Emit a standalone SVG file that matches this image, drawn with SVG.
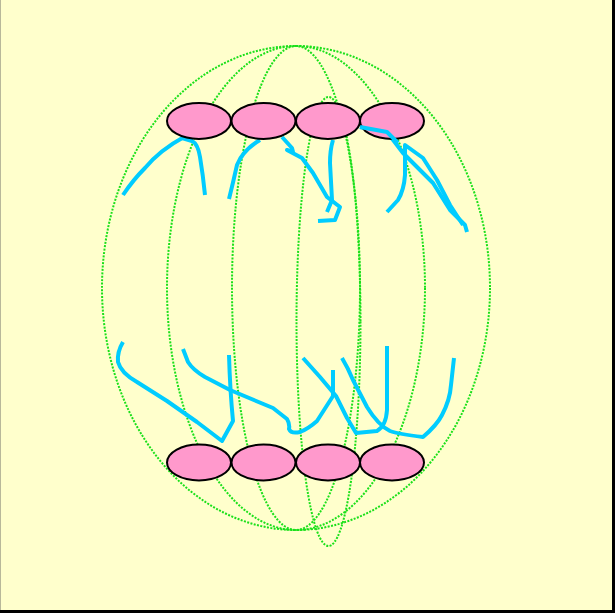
<svg xmlns="http://www.w3.org/2000/svg" width="615" height="613" viewBox="0 0 615 613">
  <style>
    .spindle { fill: none; stroke: #1ae01a; stroke-width: 2; stroke-dasharray: 2 1.4; }
    .chromatid { fill: none; stroke: #00ccff; stroke-width: 4; stroke-linecap: butt; stroke-linejoin: round; }
    .centromere { fill: #ff99cc; stroke: #000000; stroke-width: 2; }
  </style>
  <!-- cell background and frame -->
  <rect x="0" y="0" width="615" height="613" fill="#ffffcc"/>
  <line x1="0.5" y1="0" x2="0.5" y2="611" stroke="#b8b89a" stroke-width="1"/>
  <rect x="612" y="0" width="3" height="613" fill="#000000"/>
  <rect x="0" y="610" width="615" height="3" fill="#000000"/>

  <!-- spindle fibres -->
  <g id="spindle">
    <ellipse class="spindle" cx="296" cy="288" rx="194" ry="242"/>
    <ellipse class="spindle" cx="296" cy="288" rx="129" ry="242"/>
    <ellipse class="spindle" cx="296" cy="288" rx="64" ry="242"/>
    <ellipse class="spindle" cx="328.5" cy="321.5" rx="32" ry="224.5"/>
  </g>

  <!-- chromatids -->
  <g id="connectors">
    <path class="chromatid" d="M184,137 Q160,150 145,168 Q133,180 123,195"/>
    <path class="chromatid" d="M182,138 L192,141 Q198,144 200,157 Q203,175 205,195"/>
    <path class="chromatid" d="M260,140 Q243,150 237,165 Q233,183 229,199"/>
    <path class="chromatid" d="M282,137 L292,148 L293,152 L287,150 L302,158 L313,173 L327,197 L340,207 L335,220 L318,221"/>
    <path class="chromatid" d="M333,140 Q330,150 330,163 Q331,182 332,200 L327,212"/>
    <path class="chromatid" d="M360,127 L387,132 L403,153 L433,183 L450,210 L465,225 L467,232"/>
    <path class="chromatid" d="M387,212 L398,200 Q404,190 405,175 L405,145 L423,158 L437,180 L450,205 L463,225"/>

    <path class="chromatid" d="M123,342 Q117,352 118,362 Q121,373 137,382 L167,401 L197,422 L222,441 L233,421 Q230,390 229,355"/>
    <path class="chromatid" d="M183,349 L188,362 Q193,370 205,377 L230,390 L273,408 L287,419 Q290,424 289,429 Q291,434 300,432 Q308,429 317,421 L333,396 L333,370"/>
    <path class="chromatid" d="M303,358 L320,377 L336,396 L347,418 L356,433 L377,431 Q386,426 387,410 L387,346"/>
    <path class="chromatid" d="M342,358 Q348,368 353,380 L367,407 Q378,425 390,431 Q398,434 423,437 Q437,425 442,415 Q450,400 451,385 L454,358"/>
  </g>

  <!-- centromeres, upper row -->
  <g id="upper-row">
    <ellipse id="u1" class="centromere" cx="199" cy="121" rx="32" ry="18"/>
    <ellipse id="u2" class="centromere" cx="263.5" cy="121" rx="32" ry="18"/>
    <ellipse id="u3" class="centromere" cx="328" cy="121" rx="32" ry="18"/>
    <ellipse id="u4" class="centromere" cx="392" cy="121" rx="32" ry="18"/>
  </g>
  <!-- centromeres, lower row -->
  <g id="lower-row">
    <ellipse id="l1" class="centromere" cx="199" cy="462.5" rx="32" ry="18"/>
    <ellipse id="l2" class="centromere" cx="263.5" cy="462.5" rx="32" ry="18"/>
    <ellipse id="l3" class="centromere" cx="328" cy="462.5" rx="32" ry="18"/>
    <ellipse id="l4" class="centromere" cx="392" cy="462.5" rx="32" ry="18"/>
  </g>

  <!-- strand overlapping the fourth upper centromere -->
  <path class="chromatid" d="M360,127 L387,132 L398,143"/>
</svg>
